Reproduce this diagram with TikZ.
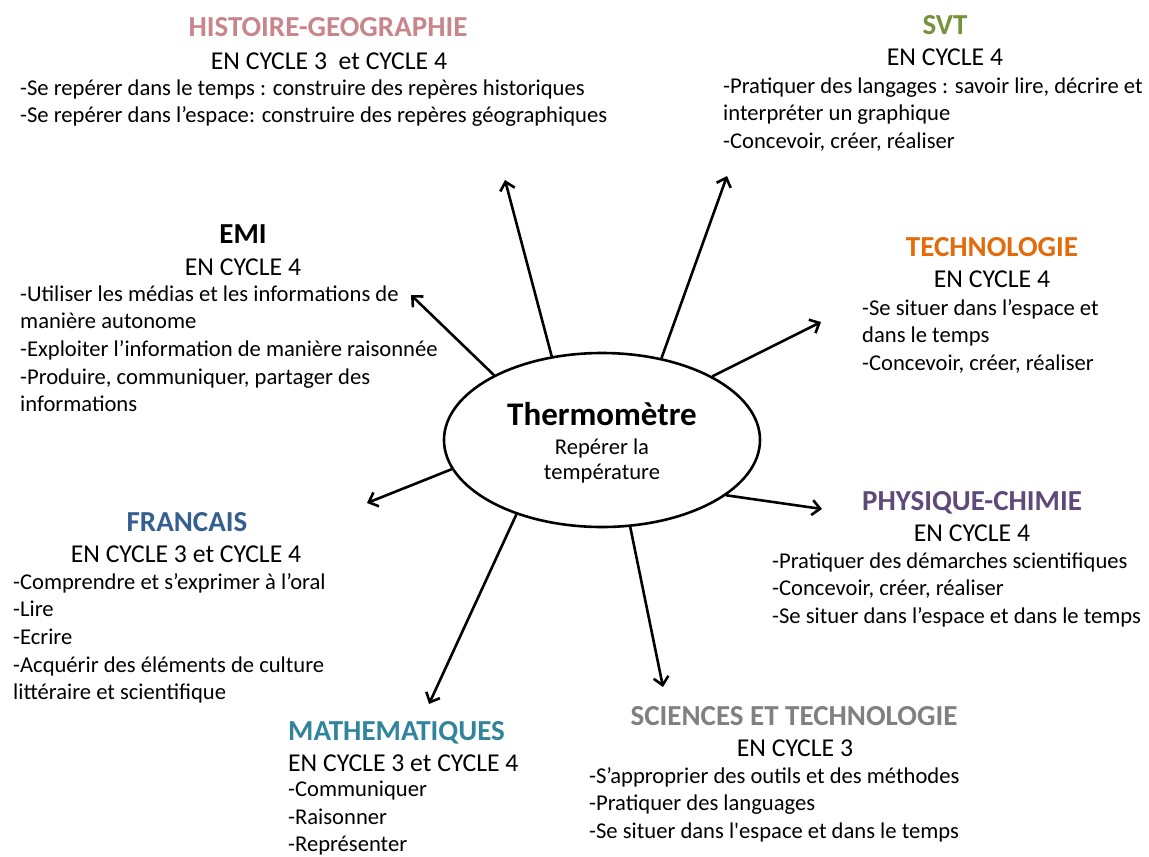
\documentclass[tikz,border=0pt]{standalone}
\usepackage{fontspec}
\setmainfont{Carlito}
\usetikzlibrary{arrows.meta,shapes.geometric}
\definecolor{cHG}{HTML}{C8868C}
\definecolor{cSVT}{HTML}{76923C}
\definecolor{cTEC}{HTML}{E36C0A}
\definecolor{cPC}{HTML}{5F497A}
\definecolor{cFR}{HTML}{365F91}
\definecolor{cMA}{HTML}{31849B}
\definecolor{cST}{HTML}{808080}
\tikzset{
  head/.style={inner sep=0pt, anchor=base, font=\fontsize{29}{35}\selectfont\bfseries},
  cyc/.style={inner sep=0pt, anchor=base, font=\fontsize{25.7}{31}\selectfont},
  bodyt/.style={inner sep=0pt, anchor=base west, font=\fontsize{22.6}{27.7}\selectfont},
  arr/.style={line width=2.6pt, -{Straight Barb[length=8pt,width=15pt]}},
  ell/.style={draw, line width=2.6pt, ellipse, minimum width=316pt, minimum height=174pt, inner sep=0pt},
}
\newcommand\bodylines[4]{\foreach \myline [count=\i] in {#4}{\node[bodyt] (#1\i) at (#2,{#3+27.7*(\i-1)}) {\myline};}}
\begin{document}
\begin{tikzpicture}[x=1pt,y=-1pt]
\path[use as bounding box, fill=white] (0,0) rectangle (1149,857);

% centre
\node[ell] (c) at (602,440) {};
\node[inner sep=0pt, anchor=base, font=\fontsize{33}{40}\selectfont\bfseries] (th1) at (602,425.5) {Thermomètre};
\node[inner sep=0pt, anchor=base, font=\fontsize{22.6}{27}\selectfont] (th2) at (602,454) {Repérer la};
\node[inner sep=0pt, anchor=base, font=\fontsize{22.6}{27}\selectfont] (th3) at (602,479) {température};

% HISTOIRE-GEOGRAPHIE
\node[head, text=cHG] (hgh) at (328,36.3) {HISTOIRE-GEOGRAPHIE};
\node[cyc] (hgc) at (329,69.3) {EN CYCLE 3\ \ et CYCLE 4};
\bodylines{hg}{20}{95}{{-Se repérer dans le temps : construire des repères historiques},{-Se repérer dans l’espace: construire des repères géographiques}}

% SVT
\node[head, text=cSVT] (svh) at (945,34.3) {SVT};
\node[cyc] (svc) at (945,65.3) {EN CYCLE 4};
\bodylines{sv}{723}{93}{{-Pratiquer des langages : savoir lire, décrire et},{interpréter un graphique},{-Concevoir, créer, réaliser}}

% EMI
\node[head] (emh) at (243,243.3) {EMI};
\node[cyc] (emc) at (243,275.3) {EN CYCLE 4};
\bodylines{em}{20}{301}{{-Utiliser les médias et les informations de},{manière autonome},{-Exploiter l’information de manière raisonnée},{-Produire, communiquer, partager des},{informations}}

% TECHNOLOGIE
\node[head, text=cTEC] (teh) at (992,256.3) {TECHNOLOGIE};
\node[cyc] (tec) at (992,287.3) {EN CYCLE 4};
\bodylines{te}{862}{315}{{-Se situer dans l’espace et},{dans le temps},{-Concevoir, créer, réaliser}}

% FRANCAIS
\node[head, text=cFR] (frh) at (187,531.3) {FRANCAIS};
\node[cyc] (frc) at (186,562.3) {EN CYCLE 3 et CYCLE 4};
\bodylines{fr}{13}{589}{{-Comprendre et s’exprimer à l’oral},{-Lire},{-Ecrire},{-Acquérir des éléments de culture},{littéraire et scientifique}}

% PHYSIQUE-CHIMIE
\node[head, text=cPC] (pch) at (972,510.3) {PHYSIQUE-CHIMIE};
\node[cyc] (pcc) at (972,541.3) {EN CYCLE 4};
\bodylines{pc}{772}{568}{{-Pratiquer des démarches scientifiques},{-Concevoir, créer, réaliser},{-Se situer dans l’espace et dans le temps}}

% MATHEMATIQUES
\node[head, anchor=base west, text=cMA] (mah) at (288,740.3) {MATHEMATIQUES};
\node[cyc, anchor=base west] (mac) at (288,771.3) {EN CYCLE 3 et CYCLE 4};
\bodylines{ma}{288}{796.5}{{-Communiquer},{-Raisonner},{-Représenter}}

% SCIENCES ET TECHNOLOGIE
\node[head, text=cST] (sth) at (794,725.3) {SCIENCES ET TECHNOLOGIE};
\node[cyc] (stc) at (795,756.3) {EN CYCLE 3};
\bodylines{st}{589}{783}{{-S’approprier des outils et des méthodes},{-Pratiquer des languages},{-Se situer dans l\textquotesingle espace et dans le temps}}

% arrow tips
\coordinate (tHG) at (505,180);
\coordinate (tSV) at (727,176);
\coordinate (tEM) at (411,295);
\coordinate (tTE) at (821,322);
\coordinate (tFR) at (367,503);
\coordinate (tPC) at (822,509);
\coordinate (tMA) at (429,704);
\coordinate (tST) at (663,687);

\draw[arr] (c.121.4) -- (tHG);
\draw[arr] (c.54.5) -- (tSV);
\draw[arr] (c.149.6) -- (tEM);
\draw[arr] (c.30.8) -- (tTE);
\draw[arr] (c.191.6) -- (tFR);
\draw[arr] (c.336.7) -- (tPC);
\draw[arr] (c.221.4) -- (tMA);
\draw[arr] (c.288.2) -- (tST);
\end{tikzpicture}
\end{document}
